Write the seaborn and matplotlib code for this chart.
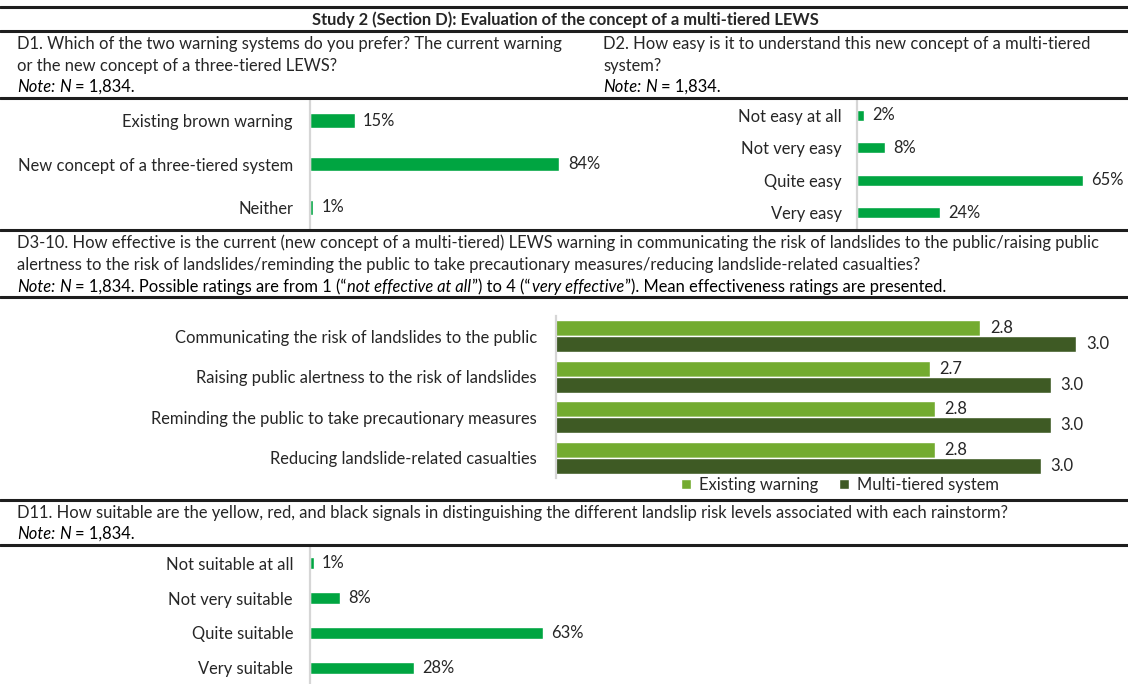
import numpy as np
import pandas as pd
import seaborn as sns
import matplotlib
matplotlib.use("Agg")
import matplotlib.pyplot as plt
from matplotlib.lines import Line2D

# ---- data ----
d1_cats = ["Existing brown warning", "New concept of a three-tiered system", "Neither"]
d1_vals = [15, 84, 1]

d2_cats = ["Not easy at all", "Not very easy", "Quite easy", "Very easy"]
d2_vals = [2, 8, 65, 24]

d3_items = ["Communicating the risk of landslides to the public",
            "Raising public alertness to the risk of landslides",
            "Reminding the public to take precautionary measures",
            "Reducing landslide-related casualties"]
d3_existing = [2.84, 2.74, 2.75, 2.75]
d3_multi = [3.03, 2.98, 2.98, 2.96]
d3_systems = ["Existing warning", "Multi-tiered system"]

d11_cats = ["Not suitable at all", "Not very suitable", "Quite suitable", "Very suitable"]
d11_vals = [1, 8, 63, 28]

GREEN = "#00A541"
LIGHT = "#73AB30"
DARK = "#3E5A24"
SPINE = "#D6D6D6"

W, H = 1128, 684
FS = 11.9

sns.set_style("white")
plt.rcParams['font.family'] = ['Lato', 'DejaVu Sans']

fig = plt.figure(figsize=(W / 100, H / 100), dpi=100)
renderer = fig.canvas.get_renderer()


def fx(x):
    return x / W


def fy(y):
    return 1 - y / H


def hline(y, lw=2.2, color="#1E1E1E"):
    fig.add_artist(Line2D([0, 1], [fy(y), fy(y)], transform=fig.transFigure,
                          color=color, lw=lw))


def rich(x, y, parts, size=FS):
    # parts: (text, italic, gap in px before)
    cur = x
    for txt, italic, gap in parts:
        cur += gap
        t = fig.text(fx(cur), fy(y), txt, fontsize=size, va="center", ha="left",
                     style="italic" if italic else "normal", color="black")
        cur = t.get_window_extent(renderer).x1


def note_n(x, y):
    rich(x, y, [("Note:", True, 0), ("N", True, 4), ("= 1,834.", False, 4)])


def make_axes(left, top, right, bottom):
    ax = fig.add_axes([fx(left), fy(bottom), fx(right - left), (bottom - top) / H])
    for s in ["top", "right", "bottom"]:
        ax.spines[s].set_visible(False)
    ax.spines["left"].set_color(SPINE)
    ax.spines["left"].set_linewidth(1.6)
    ax.set_xticks([])
    ax.set_xlabel("")
    ax.set_ylabel("")
    ax.set_facecolor("none")
    return ax


def simple_bars(ax, cats, vals, px_per_unit, width, pad_px):
    sns.barplot(x=vals, y=cats, orient="h", color=GREEN, width=width, ax=ax,
                saturation=1)
    bb = ax.get_position()
    ax.set_xlim(0, bb.width * W / px_per_unit)
    ax.set_ylim(len(cats) - 0.5, -0.5)
    ax.set_xticks([])
    ax.set_xlabel("")
    ax.set_ylabel("")
    ax.tick_params(axis="y", length=0, pad=pad_px * 0.72, labelsize=FS)
    ax.bar_label(ax.containers[0], labels=[f"{v}%" for v in vals],
                 padding=6, fontsize=FS, clip_on=False)


# ---- header ----
hline(7)
fig.text(fx(565), fy(20), "Study 2 (Section D): Evaluation of the concept of a multi-tiered LEWS",
         fontsize=FS, fontweight="bold", ha="center", va="center")
hline(31)

fig.text(fx(17), fy(44), "D1. Which of the two warning systems do you prefer? The current warning",
         fontsize=FS, va="center")
fig.text(fx(17), fy(66), "or the new concept of a three-tiered LEWS?", fontsize=FS, va="center")
note_n(17, 87)

fig.text(fx(603), fy(44), "D2. How easy is it to understand this new concept of a multi-tiered",
         fontsize=FS, va="center")
fig.text(fx(603), fy(66), "system?", fontsize=FS, va="center")
note_n(603, 87)
hline(98)

# ---- D1 ----
ax1 = make_axes(310, 99, 600, 229)
simple_bars(ax1, d1_cats, d1_vals, 2.97, 0.345, 17)

# ---- D2 ----
ax2 = make_axes(857, 99, 1128, 229)
simple_bars(ax2, d2_cats, d2_vals, 3.47, 0.34, 15)

hline(230)

# ---- D3-10 ----
fig.text(fx(17), fy(243), "D3-10. How effective is the current (new concept of a multi-tiered) LEWS warning "
         "in communicating the risk of landslides to the public/raising public", fontsize=FS, va="center")
fig.text(fx(17), fy(265), "alertness to the risk of landslides/reminding the public to take precautionary "
         "measures/reducing landslide-related casualties?", fontsize=FS, va="center")
rich(17, 287, [("Note:", True, 0), ("N", True, 4),
               ("= 1,834. Possible ratings are from 1 (\u201c", False, 4),
               ("not effective at all", True, 1),
               ("\u201d) to 4 (\u201c", False, 1),
               ("very effective", True, 1),
               ("\u201d). Mean effectiveness ratings are presented.", False, 1)])
hline(297)

d3 = pd.DataFrame({
    "item": d3_items * 2,
    "score": d3_existing + d3_multi,
    "system": [d3_systems[0]] * len(d3_items) + [d3_systems[1]] * len(d3_items),
})
ax3 = make_axes(556, 316, 1100, 478)
sns.barplot(data=d3, x="score", y="item", hue="system", orient="h",
            palette=[LIGHT, DARK], width=0.79, saturation=1, ax=ax3)
ax3.set_xlim(2, 2 + 544 / 505)
ax3.set_ylim(len(d3_items) - 0.5, -0.5)
ax3.set_xticks([])
ax3.set_xlabel("")
ax3.set_ylabel("")
ax3.tick_params(axis="y", length=0, pad=19 * 0.72, labelsize=FS)
for cont, vals in zip(ax3.containers, [d3_existing, d3_multi]):
    ax3.bar_label(cont, labels=[f"{v:.1f}" for v in vals], padding=7,
                  fontsize=FS, clip_on=False)
handles, labels = ax3.get_legend_handles_labels()
ax3.legend(handles, labels, loc="center", bbox_to_anchor=(fx(840), fy(485)),
           bbox_transform=fig.transFigure, ncol=2, frameon=False, fontsize=FS,
           handlelength=0.6, handleheight=0.6, handletextpad=0.45,
           columnspacing=1.3, borderpad=0)

hline(500)

# ---- D11 ----
fig.text(fx(17), fy(513), "D11. How suitable are the yellow, red, and black signals in distinguishing "
         "the different landslip risk levels associated with each rainstorm?", fontsize=FS, va="center")
note_n(17, 534)
hline(545)

ax4 = make_axes(310, 546, 700, 685)
simple_bars(ax4, d11_cats, d11_vals, 3.70, 0.35, 17)

fig.savefig("out.png", dpi=100, facecolor="white")
